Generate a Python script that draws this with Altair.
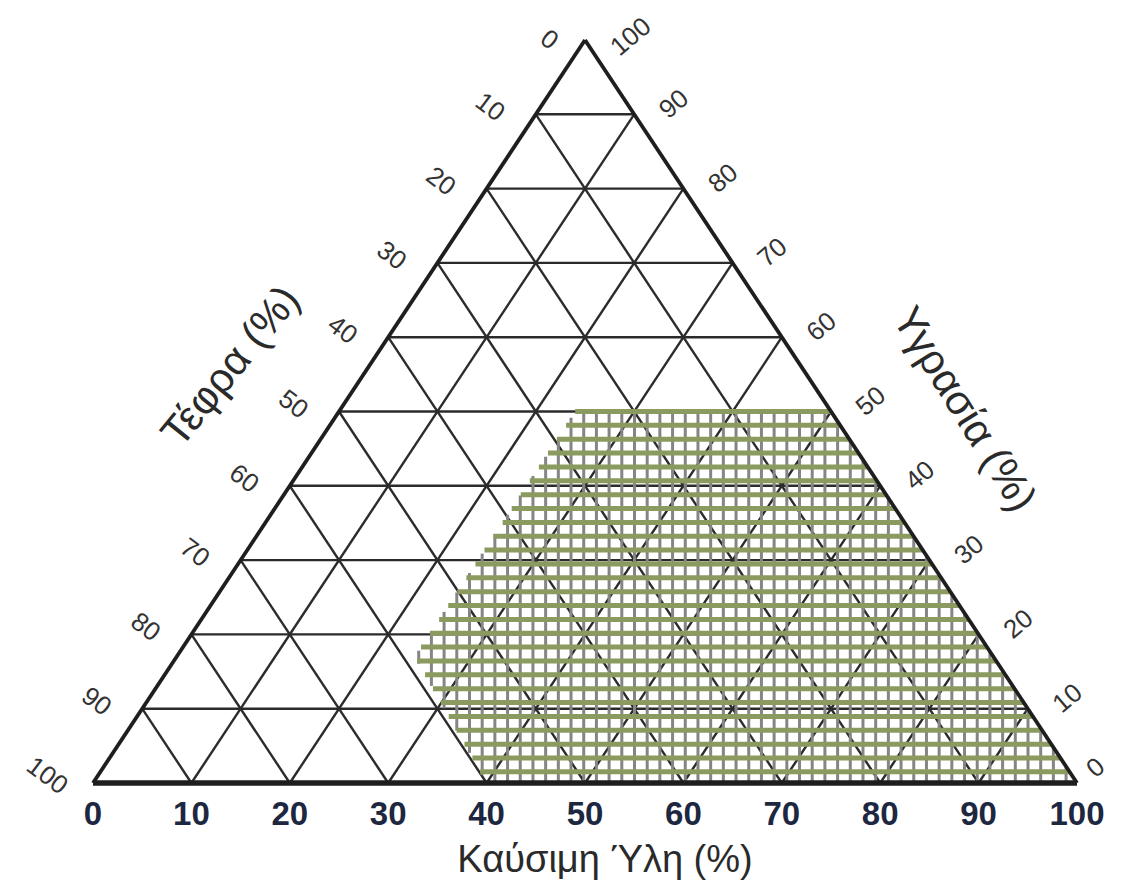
import altair as alt
import numpy as np
import pandas as pd

# ---- data ----
fuel_ticks = [0, 10, 20, 30, 40, 50, 60, 70, 80, 90, 100]          # bottom axis (Καύσιμη Ύλη)
ash_ticks = [0, 10, 20, 30, 40, 50, 60, 70, 80, 90, 100]           # left side (Τέφρα), top -> bottom
moisture_ticks = [100, 90, 80, 70, 60, 50, 40, 30, 20, 10, 0]      # right side (Υγρασία), top -> bottom
grid_steps = [10, 20, 30, 40, 50, 60, 70, 80, 90]

# combustion zone polygon (x along base 0-100, y = height 0-100)
zone_x = [49, 75, 100, 40, 32.7]
zone_y = [50, 50, 0, 0, 17]

title_bottom = "Καύσιμη Ύλη (%)"
title_left = "Τέφρα (%)"
title_right = "Υγρασία (%)"

# ---- layout ----
W, H = 984, 743
PX, PY = W / 100.0, H / 100.0
xs = alt.Scale(domain=[0, 100], nice=False, zero=False)
ys = alt.Scale(domain=[0, 100], nice=False, zero=False)


def shift(x, y, sx, sy):
    """move a data point by a pixel offset (screen coords)"""
    return x + sx / PX, y - sy / PY


def rules(df, color, width, opacity=1.0):
    return alt.Chart(df).mark_rule(color=color, strokeWidth=width, opacity=opacity, strokeCap="butt").encode(
        x=alt.X("x:Q", scale=xs, axis=None),
        y=alt.Y("y:Q", scale=ys, axis=None),
        x2="x2:Q",
        y2="y2:Q",
    )


def texts(df, angle, size, color, weight="normal"):
    return alt.Chart(df).mark_text(
        angle=angle % 360, fontSize=size, font="Liberation Sans", color=color, fontWeight=weight,
        align="center", baseline="middle",
    ).encode(
        x=alt.X("x:Q", scale=xs, axis=None),
        y=alt.Y("y:Q", scale=ys, axis=None),
        text="t:N",
    )


# grid lines
g = []
for k in grid_steps:
    g.append(dict(x=k / 2, y=k, x2=100 - k / 2, y2=k))          # horizontal
    g.append(dict(x=k, y=0, x2=50 + k / 2, y2=100 - k))        # parallel to left edge
    g.append(dict(x=k, y=0, x2=k / 2, y2=k))                    # parallel to right edge
grid_df = pd.DataFrame(g)

edges_df = pd.DataFrame([dict(x=0, y=0, x2=50, y2=100), dict(x=100, y=0, x2=50, y2=100)])
base_df = pd.DataFrame([dict(x=0, y=0, x2=100, y2=0)])

# hatch of the combustion zone
left_chain_y = [zone_y[3], zone_y[4], zone_y[0]]
left_chain_x = [zone_x[3], zone_x[4], zone_x[0]]
stripe_y = np.linspace(1.5, zone_y[0], 27)
stripes_df = pd.DataFrame(dict(
    x=np.interp(stripe_y, left_chain_y, left_chain_x),
    x2=np.interp(stripe_y, [zone_y[2], zone_y[1]], [zone_x[2], zone_x[1]]),
    y=stripe_y, y2=stripe_y,
))
vx = np.arange(zone_x[4] + 0.4, 100, 1.29)
ylo = np.where(vx < zone_x[3], np.interp(vx, [zone_x[4], zone_x[3]], [zone_y[4], 0]), 0)
yhi = np.where(vx < zone_x[0], np.interp(vx, [zone_x[4], zone_x[0]], [zone_y[4], zone_y[0]]),
               np.where(vx <= zone_x[1], zone_y[0], np.interp(vx, [zone_x[1], zone_x[2]], [zone_y[1], zone_y[2]])))
verts_df = pd.DataFrame(dict(x=vx, x2=vx, y=ylo, y2=yhi))

# labels
rows = []
for v in fuel_ticks:
    x, y = shift(v, 0, 0, 32)
    rows.append(dict(x=x, y=y, t=str(v)))
bottom_df = pd.DataFrame(rows)

rows = []
for v in ash_ticks:
    h = 100 - v
    sx, sy = (-36, 0) if v == 0 else (-46, -7)
    x, y = shift(h / 2, h, sx, sy)
    rows.append(dict(x=x, y=y, t=str(v)))
left_df = pd.DataFrame(rows)

rows = []
for v in moisture_ticks:
    h = v
    if v == 100:
        sx, sy = (46, -3)
    elif v == 0:
        sx, sy = (19, -15)
    else:
        sx, sy = (40, -10)
    x, y = shift(100 - h / 2, h, sx, sy)
    rows.append(dict(x=x, y=y, t=str(v)))
right_df = pd.DataFrame(rows)

bx, by = shift(50, 0, 20, 78)
lx, ly = shift(25, 50, -108, -45)
rx, ry = shift(75, 50, 133, -2)

layers = [
    rules(grid_df, "#2b2b2b", 2.4),
    rules(verts_df, "#858585", 3),
    rules(stripes_df, "#8b9a5f", 5),
    rules(edges_df, "#1e1e1e", 3.8),
    rules(base_df, "#1e1e1e", 5.5),
    texts(bottom_df, 0, 33, "#1d2740", "bold"),
    texts(left_df, 37, 26, "#333333"),
    texts(right_df, -40, 26, "#333333"),
    texts(pd.DataFrame([dict(x=bx, y=by, t=title_bottom)]), 0, 38, "#2a2a2a"),
    texts(pd.DataFrame([dict(x=lx, y=ly, t=title_left)]), -51, 42, "#2a2a2a"),
    texts(pd.DataFrame([dict(x=rx, y=ry, t=title_right)]), 58, 42, "#2a2a2a"),
]

chart = alt.layer(*layers).properties(
    width=W, height=H,
    autosize=alt.AutoSizeParams(type="none"),
    padding={"left": 85, "top": 32, "right": 36, "bottom": 102},
    background="white",
).configure_view(stroke=None)

chart.save("out.html", embed_options={"renderer": "svg", "actions": False})
